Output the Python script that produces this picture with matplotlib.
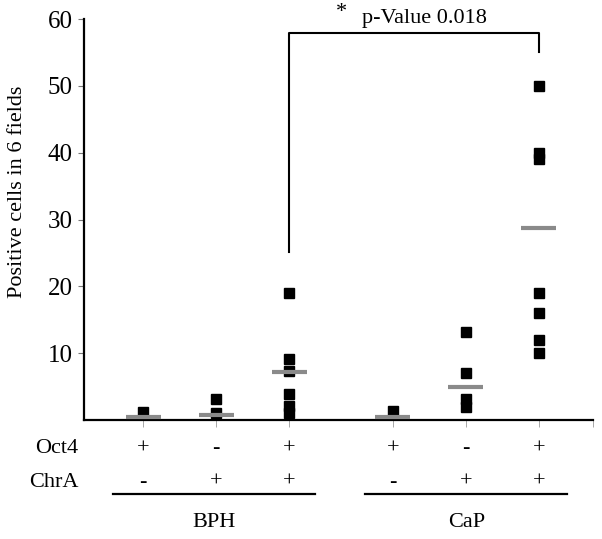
import numpy as np
import matplotlib.pyplot as plt
from matplotlib.lines import Line2D

plt.rcParams['font.family'] = ['Liberation Serif', 'DejaVu Serif']

# ##### DATA ######
groups = ['BPH', 'CaP']
oct4 = ['+', '-', '+', '+', '-', '+']
chra = ['-', '+', '+', '-', '+', '+']
x_pos = [1, 2, 3, 4.42, 5.42, 6.42]

values = [
    [1.2],
    [3.1, 1.1],
    [19, 9.1, 7.3, 3.9, 2.1, 1.0],
    [1.4],
    [13.1, 7.1, 3.1, 2.0],
    [50, 40, 39, 19, 16, 12, 10],
]
means = [0.5, 0.75, 7.2, 0.5, 5.0, 28.8]
p_text = 'p-Value 0.018'
######################

fig = plt.figure(figsize=(6.02, 5.39), dpi=100)
ax = fig.add_axes([84 / 602, 1 - 420 / 539, 509 / 602, 401 / 539])

for x, vals, m in zip(x_pos, values, means):
    ax.plot([x] * len(vals), vals, 's', color='black', markersize=7.2, zorder=3)
    ax.hlines(m, x - 0.24, x + 0.24, color='#8a8a8a', lw=3, zorder=4)

ax.set_xlim(0.19, 7.16)
ax.set_ylim(0, 60)
ax.set_yticks([10, 20, 30, 40, 50, 60])
ax.set_xticks(x_pos + [7.16])
ax.set_xticklabels([])
ax.tick_params(axis='y', labelsize=18, length=4, width=0.8, color='#777777', pad=4)
ax.tick_params(axis='x', length=5, width=0.6, color='#999999')
for s in ['top', 'right']:
    ax.spines[s].set_visible(False)
for s in ['left', 'bottom']:
    ax.spines[s].set_linewidth(1.6)
ax.set_ylabel('Positive cells in 6 fields', fontsize=16, va='center')
ax.yaxis.set_label_coords(-0.130, 0.57)

# significance bracket
ax.plot([x_pos[2], x_pos[2], x_pos[5], x_pos[5]], [25.2, 57.9, 57.9, 55],
        color='black', lw=1.5, clip_on=False)
ax.text(3.72, 60.9, '*', fontsize=16, ha='center', va='center')
ax.text(4.85, 60.1, p_text, fontsize=16, ha='center', va='center')

# category rows below the axis
tr = ax.get_xaxis_transform()
ax.text(0.19 - 0.08, -0.072, 'Oct4', fontsize=16, ha='right', va='center', transform=tr)
ax.text(0.19 - 0.08, -0.155, 'ChrA', fontsize=16, ha='right', va='center', transform=tr)
for x, a, b in zip(x_pos, oct4, chra):
    ax.text(x, -0.072, a, fontsize=16, ha='center', va='center', transform=tr)
    ax.text(x, -0.155, b, fontsize=16, ha='center', va='center', transform=tr)

spans = [(0.59, 3.36), (4.04, 6.81)]
for (x0, x1), g in zip(spans, groups):
    ax.add_line(Line2D([x0, x1], [-0.185, -0.185], color='black', lw=1.6,
                       transform=tr, clip_on=False))
    ax.text((x0 + x1) / 2, -0.255, g, fontsize=16, ha='center', va='center', transform=tr)

plt.savefig('out.png', dpi=100)
plt.close()
